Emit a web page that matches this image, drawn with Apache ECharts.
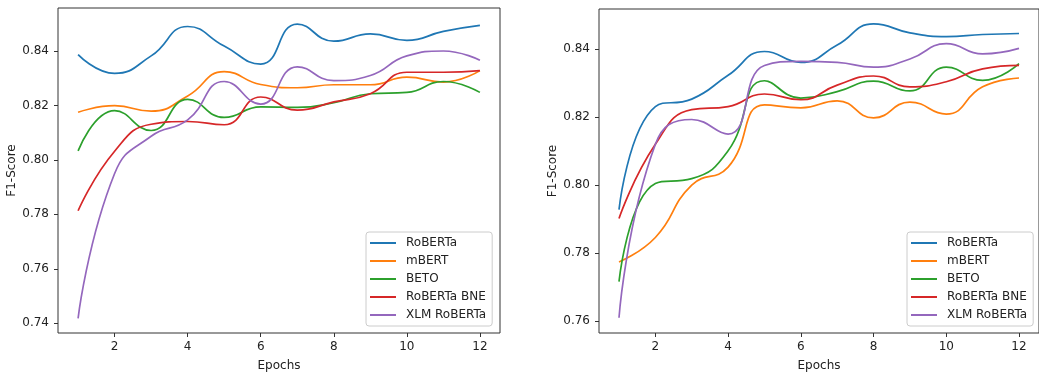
<!DOCTYPE html>
<html>
<head>
<meta charset="utf-8">
<script src="https://cdn.jsdelivr.net/npm/echarts@6/dist/echarts.min.js"></script>
<style>
  html, body { margin: 0; padding: 0; background: #fff; }
  #chart { width: 1039px; height: 377px; }
</style>
</head>
<body>
<div id="chart"></div>
<script>
// Training epochs shared by both panels
const epochs = [1, 2, 3, 4, 5, 6, 7, 8, 9, 10, 11, 12];
const modelNames = ['RoBERTa', 'mBERT', 'BETO', 'RoBERTa BNE', 'XLM RoBERTa'];
const colors = ['#1f77b4', '#ff7f0e', '#2ca02c', '#d62728', '#9467bd'];

// Left panel: F1-score per epoch
const leftRoberta    = [0.8387, 0.8318, 0.8382, 0.8490, 0.8418, 0.8352, 0.8499, 0.8436, 0.8463, 0.8439, 0.8472, 0.8494];
const leftMbert      = [0.8175, 0.8199, 0.8179, 0.8235, 0.8324, 0.8277, 0.8265, 0.8276, 0.8276, 0.8304, 0.8286, 0.8328];
const leftBeto       = [0.8033, 0.8181, 0.8108, 0.8222, 0.8156, 0.8195, 0.8193, 0.8210, 0.8243, 0.8248, 0.8288, 0.8248];
const leftRobertaBne = [0.7813, 0.8032, 0.8131, 0.8141, 0.8129, 0.8231, 0.8183, 0.8213, 0.8243, 0.8322, 0.8322, 0.8328];
const leftXlm        = [0.7418, 0.7950, 0.8087, 0.8147, 0.8288, 0.8205, 0.8342, 0.8291, 0.8310, 0.8382, 0.8400, 0.8366];

// Right panel: F1-score per epoch
const rightRoberta    = [0.7928, 0.8231, 0.8253, 0.8323, 0.8393, 0.8361, 0.8412, 0.8474, 0.8448, 0.8437, 0.8443, 0.8446];
const rightMbert      = [0.7774, 0.7846, 0.8000, 0.8053, 0.8236, 0.8227, 0.8248, 0.8198, 0.8244, 0.8209, 0.8289, 0.8315];
const rightBeto       = [0.7716, 0.8005, 0.8019, 0.8101, 0.8307, 0.8256, 0.8275, 0.8306, 0.8277, 0.8347, 0.8308, 0.8357];
const rightRobertaBne = [0.7902, 0.8120, 0.8222, 0.8231, 0.8268, 0.8251, 0.8294, 0.8321, 0.8289, 0.8304, 0.8342, 0.8352];
const rightXlm        = [0.7610, 0.8120, 0.8193, 0.8150, 0.8352, 0.8364, 0.8361, 0.8347, 0.8371, 0.8416, 0.8386, 0.8402];

// Tick labels
const xTicks = [2, 4, 6, 8, 10, 12];
const leftYTicks = [0.74, 0.76, 0.78, 0.80, 0.82, 0.84];
const rightYTicks = [0.76, 0.78, 0.80, 0.82, 0.84];

const leftSeries = [leftRoberta, leftMbert, leftBeto, leftRobertaBne, leftXlm];
const rightSeries = [rightRoberta, rightMbert, rightBeto, rightRobertaBne, rightXlm];

const FONT = 'DejaVu Sans';
const TEXT = '#222';
const FRAME = '#333';

function xAxisFor(gridIndex) {
  return {
    type: 'value', gridIndex: gridIndex, min: 0.45, max: 12.55,
    name: 'Epochs', nameLocation: 'middle', nameGap: 27,
    nameTextStyle: { fontFamily: FONT, fontSize: 12, color: TEXT },
    axisLine: { show: false },
    splitLine: { show: false },
    axisTick: { show: true, length: 4, customValues: xTicks, lineStyle: { color: FRAME, width: 1 } },
    axisLabel: { customValues: xTicks, margin: 8, fontFamily: FONT, fontSize: 12, color: TEXT,
                 formatter: v => String(v) }
  };
}

function yAxisFor(gridIndex, min, max, ticks) {
  return {
    type: 'value', gridIndex: gridIndex, min: min, max: max,
    name: 'F1-Score', nameLocation: 'middle', nameGap: 40, nameRotate: 90,
    nameTextStyle: { fontFamily: FONT, fontSize: 12, color: TEXT },
    axisLine: { show: false },
    splitLine: { show: false },
    axisTick: { show: true, length: 4, customValues: ticks, lineStyle: { color: FRAME, width: 1 } },
    axisLabel: { customValues: ticks, margin: 9, fontFamily: FONT, fontSize: 12, color: TEXT,
                 formatter: v => v.toFixed(2) }
  };
}

function seriesFor(gridIndex, values) {
  return values.map((vals, i) => ({
    name: modelNames[i],
    type: 'line',
    xAxisIndex: gridIndex,
    yAxisIndex: gridIndex,
    data: epochs.map((e, k) => [e, vals[k]]),
    smooth: 0.5,
    showSymbol: false,
    symbol: 'none',
    lineStyle: { width: 1.7, color: colors[i] },
    itemStyle: { color: colors[i] },
    emphasis: { disabled: true },
    z: 2 + i
  }));
}

function legendFor(left) {
  return {
    orient: 'vertical', left: left, top: 232,
    data: modelNames,
    icon: 'rect', itemWidth: 26, itemHeight: 2, itemGap: 4,
    padding: [4, 6, 4, 4],
    backgroundColor: 'rgba(255,255,255,0.8)',
    borderColor: '#cccccc', borderWidth: 1, borderRadius: 3,
    textStyle: { fontFamily: FONT, fontSize: 12, color: TEXT, lineHeight: 14, padding: [0, 0, 0, 5] },
    selectedMode: false
  };
}

const chart = echarts.init(document.getElementById('chart'), null, { renderer: 'canvas' });
chart.setOption({
  animation: false,
  backgroundColor: '#fff',
  grid: [
    { left: 58, top: 8, width: 442, height: 330, show: true, borderColor: FRAME, borderWidth: 1, backgroundColor: 'transparent' },
    { left: 599, top: 9, width: 443, height: 330, show: true, borderColor: FRAME, borderWidth: 1, backgroundColor: 'transparent' }
  ],
  xAxis: [xAxisFor(0), xAxisFor(1)],
  yAxis: [
    yAxisFor(0, 0.7364, 0.8558, leftYTicks),
    yAxisFor(1, 0.7565, 0.8518, rightYTicks)
  ],
  legend: [legendFor(366), legendFor(907)],
  series: seriesFor(0, leftSeries).concat(seriesFor(1, rightSeries))
});
</script>
</body>
</html>
